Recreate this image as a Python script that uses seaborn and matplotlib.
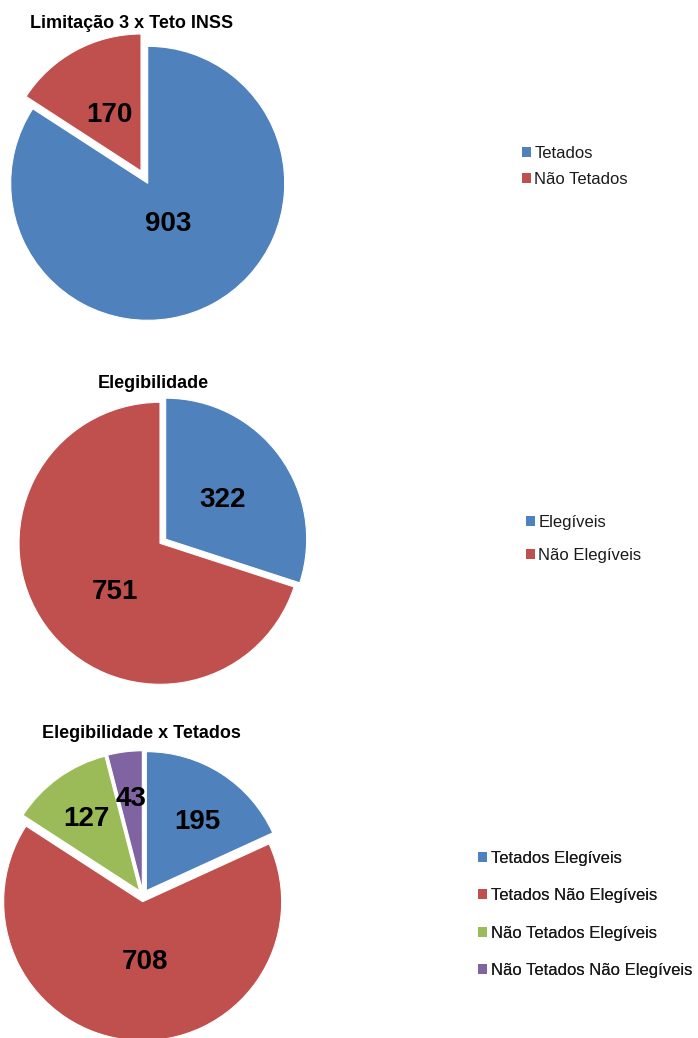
import numpy as np
import matplotlib
matplotlib.use("Agg")
import matplotlib.pyplot as plt
from matplotlib.patches import Patch
import seaborn as sns

# ---- data ----
titles = ["Limitação 3 x Teto INSS", "Elegibilidade", "Elegibilidade x Tetados"]
labels1 = ["Tetados", "Não Tetados"]
values1 = [903, 170]
labels2 = ["Elegíveis", "Não Elegíveis"]
values2 = [322, 751]
labels3 = ["Tetados Elegíveis", "Tetados Não Elegíveis", "Não Tetados Elegíveis", "Não Tetados Não Elegíveis"]
values3 = [195, 708, 127, 43]

# ---- style ----
sns.set_theme(style="white")
plt.rcParams['font.family'] = ['Liberation Sans', 'DejaVu Sans']
palette = sns.color_palette(["#4F81BD", "#C0504D", "#9BBB59", "#8064A2"])

W, H = 698, 1038
fig = plt.figure(figsize=(W / 100, H / 100), dpi=100)
ax = fig.add_axes([0, 0, 1, 1])
ax.set_xlim(0, W)
ax.set_ylim(0, H)
ax.axis("off")

# label placement: radial fraction and angular tweak (deg) per slice
configs = [
    dict(values=values1, labels=labels1, center=(147.7, H - 183.3), radius=137,
         explode=[0, 14], fracs=[0.32, 0.48], tweak=[0, 0], title_xy=(131.5, H - 23.5),
         leg_xy=(521.7, H - 166.5), ls=0.67),
    dict(values=values2, labels=labels2, center=(160, H - 543.3), radius=141,
         explode=[7, 0], fracs=[0.5, 0.46], tweak=[0, 10], title_xy=(153.5, H - 383.5),
         leg_xy=(526, H - 539), ls=1.1),
    dict(values=values3, labels=labels3, center=(143.1, H - 895.7), radius=139,
         explode=[6, 6, 6, 6], fracs=[0.63, 0.42, 0.65, 0.67], tweak=[-3, 6, 0, 0],
         title_xy=(141, H - 733.5), leg_xy=(478.3, H - 914.5), ls=1.35),
]

for i, c in enumerate(configs):
    n = len(c["values"])
    cols = palette[:n]
    wedges, _ = ax.pie(c["values"], colors=cols, startangle=90, counterclock=False,
                       explode=c["explode"], center=c["center"], radius=c["radius"],
                       wedgeprops=dict(edgecolor="white", linewidth=0.8),
                       frame=True)
    for w, v, f, tw in zip(wedges, c["values"], c["fracs"], c["tweak"]):
        mid = np.deg2rad((w.theta1 + w.theta2) / 2 + tw)
        cx, cy = w.center
        r = w.r
        ax.text(cx + f * r * np.cos(mid), cy + f * r * np.sin(mid) - 2, str(v),
                ha="center", va="center", fontsize=20, fontweight="bold", color="black")
    ax.text(c["title_xy"][0], c["title_xy"][1], titles[i], ha="center", va="center",
            fontsize=13, fontweight="bold", color="black")
    handles = [Patch(facecolor=col, edgecolor="none") for col in cols]
    leg = ax.legend(handles, c["labels"], loc="center left",
                    bbox_to_anchor=(c["leg_xy"][0] / W, c["leg_xy"][1] / H),
                    bbox_transform=ax.transAxes, frameon=False, fontsize=12,
                    handlelength=0.55, handleheight=0.55, handletextpad=0.2,
                    labelspacing=c["ls"], borderpad=0, borderaxespad=0)
    for t in leg.get_texts():
        t.set_color("#1a1a1a")
    ax.add_artist(leg)

ax.set_xlim(0, W)
ax.set_ylim(0, H)
ax.set_aspect("auto")
ax.axis("off")
fig.savefig("out.png", dpi=100)
